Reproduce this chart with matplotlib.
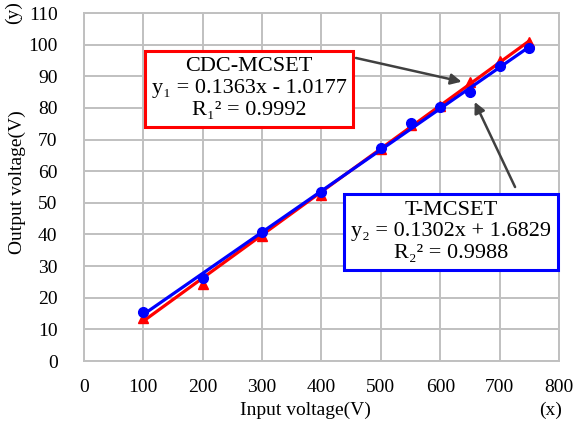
import matplotlib
matplotlib.use("Agg")
import matplotlib.pyplot as plt
import numpy as np

plt.rcParams['font.family'] = ['Liberation Serif', 'DejaVu Serif']

# Data
x_vals = [100, 200, 300, 400, 500, 550, 600, 650, 700, 750]
cdc_vals = [13.5, 24.5, 39.5, 52.5, 67.0, 74.5, 80.5, 88.2, 94.8, 100.9]
t_vals = [15.6, 26.3, 40.9, 53.5, 67.3, 75.1, 80.4, 85.0, 93.3, 98.8]
cdc_fit = (0.1363, -1.0177)
t_fit = (0.1302, 1.6829)
x_ticks = [0, 100, 200, 300, 400, 500, 600, 700, 800]
y_ticks = [0, 10, 20, 30, 40, 50, 60, 70, 80, 90, 100, 110]
cdc_text = "CDC-MCSET\ny\u2081 = 0.1363x - 1.0177\nR\u2081\u00b2 = 0.9992"
t_text = "T-MCSET\ny\u2082 = 0.1302x + 1.6829\nR\u2082\u00b2 = 0.9988"

fig = plt.figure(figsize=(5.76, 4.21), dpi=100)
ax = fig.add_axes([0.1458, 0.1425, 0.8247, 0.8265])

xs = np.array([x_vals[0], x_vals[-1]])
ax.plot(xs, cdc_fit[0] * xs + cdc_fit[1], color='#ff0000', lw=2.3, zorder=3)
ax.plot(x_vals, cdc_vals, linestyle='none', marker='^', color='#ff0000', ms=6.5, zorder=3)
ax.plot(xs, t_fit[0] * xs + t_fit[1], color='#0000ff', lw=2.3, zorder=4)
ax.plot(x_vals, t_vals, linestyle='none', marker='o', color='#0000ff', ms=7, zorder=4)

ax.set_xlim(0, 800)
ax.set_ylim(0, 110)
ax.set_xticks(x_ticks)
ax.set_yticks(y_ticks)
ax.tick_params(length=0, labelsize=14)
ax.tick_params(axis='x', pad=13)
ax.tick_params(axis='y', pad=19)
ax.grid(True, color='#c0c0c0', lw=1.4)
ax.set_axisbelow(True)
for s in ax.spines.values():
    s.set_color('#c0c0c0')
    s.set_linewidth(1.4)

fig.text(305 / 576, 1 - 410 / 421, "Input voltage(V)", ha='center', va='center', fontsize=14)
fig.text(551 / 576, 1 - 410 / 421, "(x)", ha='center', va='center', fontsize=14)
fig.text(17 / 576, 1 - 182 / 421, "Output voltage(V)", ha='center', va='center', fontsize=14, rotation=90)
fig.text(13 / 576, 1 - 13 / 421, "(y)", ha='center', va='center', fontsize=14, rotation=90)

ax.text(278, 86.1, cdc_text, ha='center', va='center', fontsize=16, linespacing=1.2, zorder=6,
        bbox=dict(boxstyle='square,pad=0.3', fc='white', ec='#ff0000', lw=2.2))
ax.text(618, 40.8, t_text, ha='center', va='center', fontsize=16, linespacing=1.2, zorder=6,
        bbox=dict(boxstyle='square,pad=0.3', fc='white', ec='#0000ff', lw=2.2))

arrow = dict(arrowstyle='-|>', color='#404040', lw=1.8, mutation_scale=16, shrinkA=0, shrinkB=0)
ax.annotate("", xy=(636, 88.3), xytext=(458, 95.8), arrowprops=arrow, zorder=7)
ax.annotate("", xy=(658, 81.9), xytext=(726, 55.0), arrowprops=arrow, zorder=7)

fig.savefig("out.png", dpi=100)
